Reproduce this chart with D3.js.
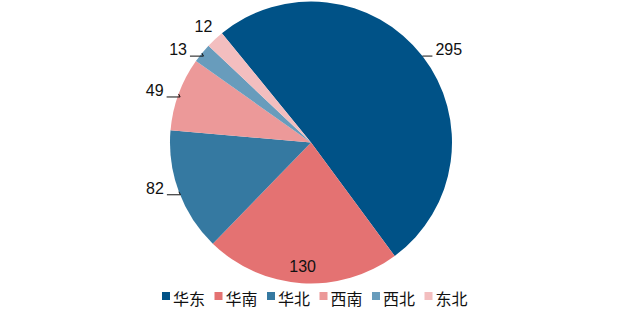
<!DOCTYPE html>
<html>
<head>
<meta charset="utf-8">
<script src="https://cdn.jsdelivr.net/npm/d3@7"></script>
<style>
body{margin:0;background:#fff}
svg{display:block}
</style>
</head>
<body>
<script>
var regions = ["华东","华南","华北","西南","西北","东北"]
var counts = [295,130,82,49,13,12]
var colors = ["#005287","#e47272","#3579a1","#ec9999","#689cbc","#f3bebf"]

var width=628, height=310
var cx=311, cy=142.5, r=141
var rot=-39.2*Math.PI/180

var svg=d3.select("body").append("svg")
	.attr("width",width)
	.attr("height",height)

var pie=d3.pie().sort(null).value(function(d){return d})
	.startAngle(rot).endAngle(rot+2*Math.PI)
var arcs=pie(counts)
var arc=d3.arc().innerRadius(0).outerRadius(r)

var g=svg.append("g").attr("transform","translate("+cx+","+cy+")")
g.selectAll("path")
	.data(arcs)
	.enter()
	.append("path")
	.attr("d",arc)
	.attr("fill",function(d,i){return colors[i]})

// label layout: "out" = leader line + text, "in" = inside, "free" = no leader
var labelMode=["out","in","out","out","out","free"]

function edge(a,rad){return [Math.sin(a)*rad,-Math.cos(a)*rad]}

var lab=g.append("g").attr("font-family","Liberation Sans, Arial, sans-serif")
	.attr("font-size",16).attr("fill","#111")
arcs.forEach(function(d,i){
	var mid=(d.startAngle+d.endAngle)/2
	var p=edge(mid,r)
	var right=Math.sin(mid)>0
	if(labelMode[i]=="in"){
		var q=edge(mid,r*0.88)
		lab.append("text").attr("x",q[0]).attr("y",q[1]).attr("dy","0.35em")
			.attr("text-anchor","middle").text(counts[i])
	}else if(labelMode[i]=="free"){
		var q=edge(mid,r+17)
		lab.append("text").attr("x",q[0]).attr("y",q[1]).attr("dy","0.35em")
			.attr("text-anchor","middle").text(counts[i])
	}else{
		var s=right?1:-1
		var y2=p[1]+3
		var pts=[[p[0],p[1]],[p[0]-s*1.5,y2],[p[0]+s*12,y2]]
		if(right) pts=[[p[0],p[1]],[p[0]+s*10,p[1]]]
		lab.append("path")
			.attr("d",d3.line()(pts))
			.attr("fill","none").attr("stroke","#111").attr("stroke-width",1)
		var e=pts[pts.length-1]
		lab.append("text").attr("x",e[0]+s*3).attr("y",e[1]-1)
			.attr("text-anchor",right?"start":"end").text(counts[i])
	}
})

// legend
var legend=svg.append("g").attr("transform","translate(162,292)")
var item=legend.selectAll("g").data(regions).enter().append("g")
	.attr("transform",function(d,i){return "translate("+(i*52.5)+",0)"})
item.append("rect").attr("width",8).attr("height",8)
	.attr("fill",function(d,i){return colors[i]})
item.append("text").attr("x",11).attr("y",13)
	.attr("font-family","Noto Sans CJK SC, sans-serif")
	.attr("font-size",16).attr("fill","#111")
	.text(function(d){return d})
</script>
</body>
</html>
